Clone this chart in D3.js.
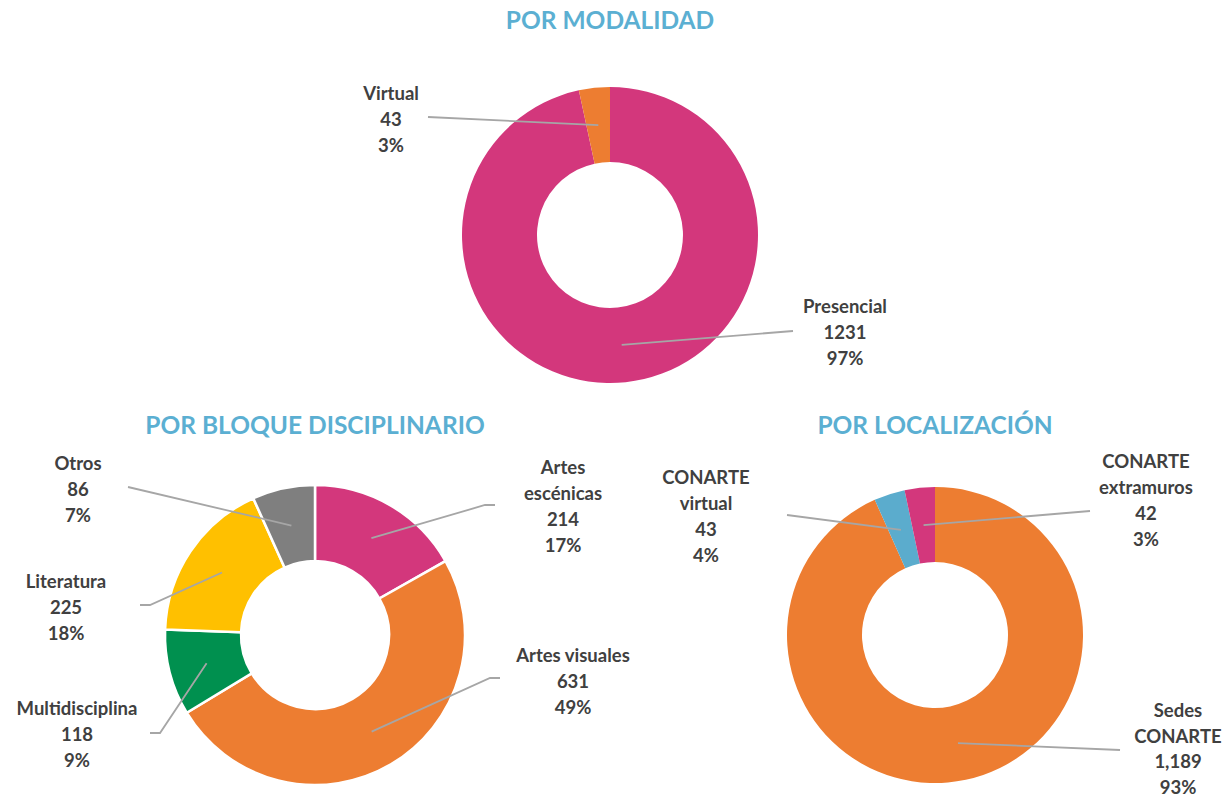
<!DOCTYPE html>
<html>
<head>
<meta charset="utf-8">
<script src="https://cdn.jsdelivr.net/npm/d3@7"></script>
<style>
  body { margin: 0; background: #fff; }
  text { font-family: Lato, "Open Sans", sans-serif; font-weight: bold; }
</style>
</head>
<body>
<div id="chart"></div>
<script>
// datos de cada dona
var modalidadLabels = [["Presencial"], ["Virtual"]];
var modalidadValues = [1231, 43];
var modalidadPct = ["97%", "3%"];

var bloqueLabels = [["Artes", "escénicas"], ["Artes visuales"], ["Multidisciplina"], ["Literatura"], ["Otros"]];
var bloqueValues = [214, 631, 118, 225, 86];
var bloquePct = ["17%", "49%", "9%", "18%", "7%"];

var localLabels = [["Sedes", "CONARTE"], ["CONARTE", "virtual"], ["CONARTE", "extramuros"]];
var localValues = [1189, 43, 42];
var localValueText = ["1,189", "43", "42"];
var localPct = ["93%", "4%", "3%"];

var width = 1225, height = 800;

var svg = d3.select("#chart")
            .append("svg")
            .attr("width", width)
            .attr("height", height);

// dibuja una dona con sus etiquetas
function donut(opt) {
    var g = svg.append("g")
               .attr("transform", "translate(" + opt.cx + "," + opt.cy + ")");

    var pie = d3.pie().sort(null).value(function(d) { return d; });
    var arcs = pie(opt.values);
    var arc = d3.arc().innerRadius(opt.inner).outerRadius(opt.outer);

    g.selectAll("path")
     .data(arcs)
     .enter()
     .append("path")
     .attr("d", arc)
     .attr("fill", function(d, i) { return opt.colors[i]; })
     .attr("stroke", opt.stroke ? "#fff" : "none")
     .attr("stroke-width", opt.stroke ? 2.5 : 0);

    // titulo
    svg.append("text")
       .attr("x", opt.cx + (opt.titleDx || 0))
       .attr("y", opt.titleY)
       .attr("text-anchor", "middle")
       .attr("fill", "#5BAFD2")
       .style("font-size", "24.5px")
       .text(opt.title);

    arcs.forEach(function(a, i) {
        var c = arc.centroid(a);
        var lp = opt.labelPos[i];
        var pts = [c, lp.elbow];
        if (lp.end) pts.push(lp.end);
        g.append("path")
         .attr("d", d3.line()(pts))
         .attr("fill", "none")
         .attr("stroke", "#A6A6A6")
         .attr("stroke-width", 1.8);

        var lines = opt.labels[i].concat([opt.valueText ? opt.valueText[i] : String(opt.values[i]), opt.pct[i]]);
        var gap = lp.gap || 26;
        var t = g.append("text")
                 .attr("text-anchor", "middle")
                 .attr("fill", "#404040")
                 .style("font-size", "18.5px");
        lines.forEach(function(s, k) {
            t.append("tspan")
             .attr("x", lp.tx)
             .attr("y", lp.ty + k * gap)
             .text(s);
        });
    });
}

donut({
    title: "POR MODALIDAD", titleY: 29,
    cx: 610, cy: 235, outer: 148, inner: 73,
    values: modalidadValues, labels: modalidadLabels, pct: modalidadPct,
    colors: ["#D3377C", "#ED7D31"],
    labelPos: [
        { tx: 235, ty: 78, elbow: [183, 96] },
        { tx: -219, ty: -135, elbow: [-182, -118] }
    ]
});

donut({
    title: "POR BLOQUE DISCIPLINARIO", titleY: 434,
    cx: 315, cy: 635, outer: 150, inner: 74, stroke: true,
    values: bloqueValues, labels: bloqueLabels, pct: bloquePct,
    colors: ["#D3377C", "#ED7D31", "#00904F", "#FFC000", "#7F7F7F"],
    labelPos: [
        { tx: 248, ty: -161, elbow: [170, -130], end: [180, -130] },
        { tx: 258, ty: 27, elbow: [175, 43], end: [185, 43] },
        { tx: -238, ty: 80, elbow: [-155, 98], end: [-165, 98] },
        { tx: -249, ty: -47, elbow: [-165, -30], end: [-175, -30] },
        { tx: -237, ty: -165, elbow: [-187, -148] }
    ]
});

donut({
    title: "POR LOCALIZACIÓN", titleY: 434,
    cx: 935, cy: 635, outer: 148, inner: 73,
    values: localValues, labels: localLabels, pct: localPct, valueText: localValueText,
    colors: ["#ED7D31", "#5BACCD", "#D3377C"],
    labelPos: [
        { tx: 243, ty: 82, gap: 25.5, elbow: [185, 115] },
        { tx: -229, ty: -151, elbow: [-148, -120] },
        { tx: 211, ty: -167, elbow: [155, -124] }
    ]
});
</script>
</body>
</html>
